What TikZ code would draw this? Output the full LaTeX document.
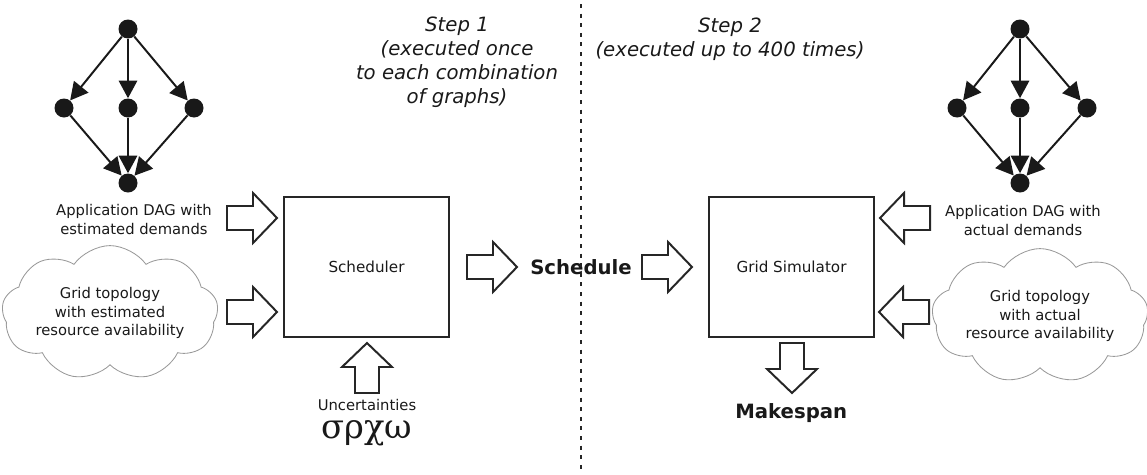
\documentclass[tikz,border=0pt]{standalone}
\usepackage{fontspec}
\setmainfont{DejaVu Sans}
\newfontfamily\greekserif{DejaVu Serif}
\usetikzlibrary{arrows.meta,shapes.symbols}

\tikzset{
  vertex/.style={circle,fill=black!90,inner sep=0pt,minimum size=0.475cm},
  dagedge/.style={line width=1.4pt,draw=black!90,-{Triangle[length=0.44cm,width=0.46cm]}},
  box/.style={draw=black!85,line width=1.4pt,minimum width=4.125cm,minimum height=3.5cm,
    font=\fontsize{10.8}{13}\selectfont,text=black!90},
  note/.style={align=center,font=\fontsize{10.5}{13.5}\selectfont,text=black!90},
  stepnote/.style={align=center,font=\fontsize{14}{17}\selectfont\itshape,text=black!90},
  result/.style={font=\fontsize{14}{17}\selectfont\bfseries,text=black!90},
  grid cloud/.style={cloud,draw=gray!80,line width=0.6pt,cloud puffs=9,cloud puff arc=110,
    cloud ignores aspect,inner xsep=0pt,inner ysep=0.28cm,minimum width=4.4cm,align=center,
    font=\fontsize{10.5}{13}\selectfont,text=black!90},
  fatarrow/.pic={\draw[line width=1.4pt,draw=black!85,fill=white,line join=miter]
    (0,-0.3) -- (0.65,-0.3) -- (0.65,-0.625) -- (1.25,0) -- (0.65,0.625) -- (0.65,0.3) -- (0,0.3) -- cycle;}
}

\begin{document}
\begin{tikzpicture}
\useasboundingbox (0,0) rectangle (28.675,11.85);

% application graph, estimated demands
\node[vertex] (lt) at (3.2,11.125) {};
\node[vertex] (l1) at (1.6,9.15) {};
\node[vertex] (l2) at (3.2,9.15) {};
\node[vertex] (l3) at (4.85,9.15) {};
\node[vertex] (lb) at (3.2,7.275) {};
\foreach \m in {l1,l2,l3} {
  \draw[dagedge] (lt) -- (\m);
  \draw[dagedge] (\m) -- (lb);
}

% application graph, actual demands
\node[vertex] (rt) at (25.5,11.125) {};
\node[vertex] (r1) at (23.925,9.15) {};
\node[vertex] (r2) at (25.5,9.15) {};
\node[vertex] (r3) at (27.175,9.15) {};
\node[vertex] (rb) at (25.5,7.275) {};
\foreach \m in {r1,r2,r3} {
  \draw[dagedge] (rt) -- (\m);
  \draw[dagedge] (\m) -- (rb);
}

\node[note] (ldemand) at (3.35,6.36) {Application DAG with\\estimated demands};
\node[note] (rdemand) at (25.575,6.33) {Application DAG with\\actual demands};

\node[grid cloud] (lgrid) at (2.75,4.025) {Grid topology\\with estimated\\resource availability};
\node[grid cloud] (rgrid) at (26.0,3.95) {Grid topology\\with actual\\resource availability};

% the two steps
\node[box] (sched) at (9.1625,5.175) {Scheduler};
\node[box] (sim) at (19.7875,5.175) {Grid Simulator};
\node[result] (schedule) at (14.525,5.175) {Schedule};
\node[result] (makespan) at (19.78,1.525) {Makespan};
\node[note] (uncert) at (9.175,1.725) {Uncertainties};
\node[font=\greekserif\fontsize{24}{24}\selectfont,text=black!90] (params) at (9.175,1.025) {σρχω};

\node[stepnote] (step1) at (11.425,10.3) {Step 1\\(executed once\\to each combination\\of graphs)};
\node[stepnote] (step2) at (18.25,10.875) {Step 2\\(executed up to 400 times)};

\coordinate (divtop) at (14.525,11.75);
\coordinate (divbot) at (14.525,0);
\draw[line width=1.8pt,black!85,dash pattern=on 0.1cm off 0.14cm] (divtop) -- (divbot);

% block arrows
\pic at (5.675,6.4) {fatarrow};
\pic at (5.675,4.05) {fatarrow};
\pic at (11.675,5.175) {fatarrow};
\pic at (16.05,5.175) {fatarrow};
\pic[rotate=180] at (23.25,6.4) {fatarrow};
\pic[rotate=180] at (23.225,4.05) {fatarrow};
\pic[rotate=90] at (9.175,2.025) {fatarrow};
\pic[rotate=-90] at (19.8,3.275) {fatarrow};
\end{tikzpicture}
\end{document}
